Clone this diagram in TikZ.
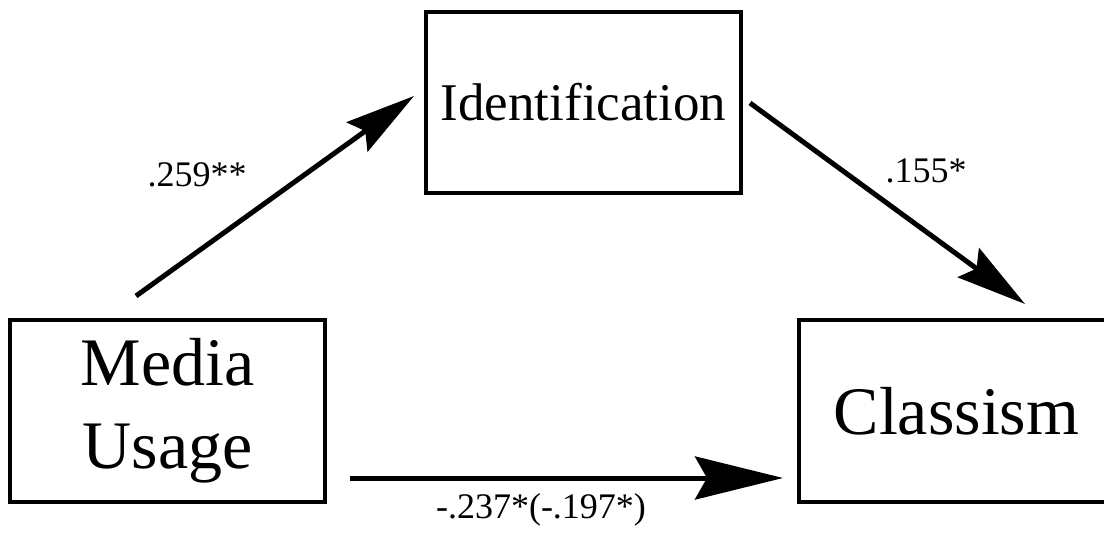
\documentclass[tikz,border=0pt]{standalone}
\usepackage{fontspec}
\setmainfont{Liberation Serif}
\usetikzlibrary{arrows.meta}
\begin{document}
\begin{tikzpicture}[x=0.5pt,y=-0.5pt,
  box/.style={draw=black,line width=2pt,inner sep=0pt,align=center},
  bigtext/.style={font=\fontsize{34}{41.5}\selectfont},
  midtext/.style={font=\fontsize{26.5}{32}\selectfont},
  coef/.style={font=\fontsize{18}{22}\selectfont,anchor=base,inner sep=0pt},
  diagarrow/.style={line width=2.5pt,-{Stealth[length=35pt,width=18pt,inset=5pt]}},
  flatarrow/.style={line width=2.5pt,-{Stealth[length=44pt,width=21.5pt,inset=6pt]}}]
  \useasboundingbox (0,0) rectangle (1104,535);
  \clip (0,0) rectangle (1104,535);

  % variables
  \node[box,bigtext,minimum width=157.5pt,minimum height=91pt] (mu) at (167.5,411)
    {Media\\Usage};
  \node[box,midtext,minimum width=157.5pt,minimum height=90.5pt] (id) at (583.5,102.5)
    {Identification};
  \node[box,bigtext,minimum width=157.5pt,minimum height=91pt] (cl) at (956.5,411)
    {Classism};

  % paths
  \draw[diagarrow] ([shift={(128,-22)}]mu.north west) -- ([shift={(-10,86)}]id.north west);
  \draw[diagarrow] ([shift={(7,93)}]id.north east) -- ([shift={(228,-14)}]cl.north west);
  \draw[flatarrow] ([shift={(23,67)}]mu.east) -- ([shift={(-14,67)}]cl.west);

  % coefficients
  \node[coef] (a) at (197,187) {.259**};
  \node[coef] (b) at (926,183) {.155*};
  \node[coef] (c) at (541,518) {-.237*(-.197*)};
\end{tikzpicture}
\end{document}
